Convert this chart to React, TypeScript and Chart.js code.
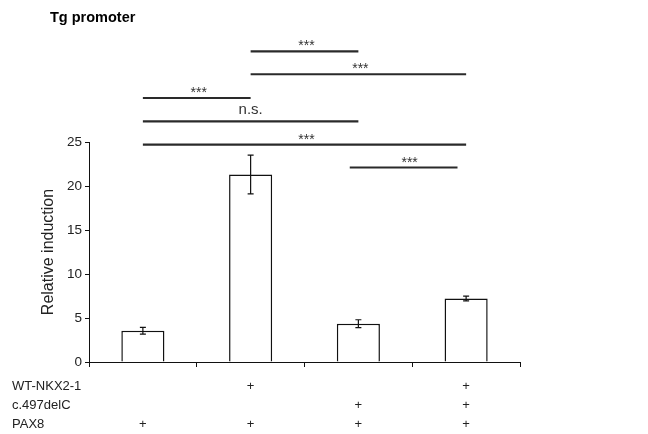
import React, { useEffect, useRef } from "react";
import { Chart, registerables } from "chart.js";

Chart.register(...registerables);

const wtNkx = ["", "+", "", "+"];
const c497 = ["", "", "+", "+"];
const pax8 = ["+", "+", "+", "+"];
const rowLabels = ["WT-NKX2-1", "c.497delC", "PAX8"];
const values = [3.55, 21.3, 4.35, 7.22];
const errors = [0.38, 2.2, 0.45, 0.27];
const yMax = 25;
const yStep = 5;
const sigFrom = [1, 1, 0, 0, 0, 1.92];
const sigTo = [2, 3, 1, 2, 3, 2.92];
const sigLevel = [35.3, 32.7, 30.0, 27.35, 24.7, 22.1];
const sigLabel = ["***", "***", "***", "n.s.", "***", "***"];
const titleText = "Tg promoter";
const yTitle = "Relative induction";

const FONT = "'Liberation Sans', Arial, sans-serif";

const overlayPlugin = {
  id: "overlay",
  afterDatasetsDraw(chart: any) {
    const { ctx, scales } = chart;
    const x = scales.x;
    const y = scales.y;
    ctx.save();
    // error bars
    ctx.strokeStyle = "#111";
    ctx.lineWidth = 1.2;
    values.forEach((v, i) => {
      const px = x.getPixelForValue(i);
      const top = y.getPixelForValue(v + errors[i]);
      const bot = y.getPixelForValue(v - errors[i]);
      ctx.beginPath();
      ctx.moveTo(px, top);
      ctx.lineTo(px, bot);
      ctx.moveTo(px - 3, top);
      ctx.lineTo(px + 3, top);
      ctx.moveTo(px - 3, bot);
      ctx.lineTo(px + 3, bot);
      ctx.stroke();
    });
    // significance brackets
    ctx.strokeStyle = "#2a2a2a";
    ctx.fillStyle = "#333";
    ctx.lineWidth = 2.2;
    ctx.textAlign = "center";
    ctx.textBaseline = "alphabetic";
    sigLevel.forEach((lv, i) => {
      const x1 = x.getPixelForValue(sigFrom[i]);
      const x2 = x.getPixelForValue(sigTo[i]);
      const py = y.getPixelForValue(lv);
      ctx.beginPath();
      ctx.moveTo(x1, py);
      ctx.lineTo(x2, py);
      ctx.stroke();
      const label = sigLabel[i];
      const mx = (x1 + x2) / 2;
      if (label === "n.s.") {
        ctx.font = `15px ${FONT}`;
        ctx.fillText(label, mx, py - 7);
      } else {
        ctx.font = `14px ${FONT}`;
        ctx.fillText(label, mx + (i === 5 ? 6 : 2), py - 1);
      }
    });
    ctx.restore();
  },
  afterDraw(chart: any) {
    const { ctx, scales } = chart;
    const x = scales.x;
    ctx.save();
    ctx.fillStyle = "#000";
    ctx.font = `bold 14.5px ${FONT}`;
    ctx.textAlign = "left";
    ctx.textBaseline = "alphabetic";
    ctx.fillText(titleText, 50, 22);
    ctx.font = `13px ${FONT}`;
    ctx.fillStyle = "#222";
    ctx.textBaseline = "middle";
    const tl = x.options.grid.tickLength;
    const pad = x.options.ticks.padding;
    rowLabels.forEach((r, i) => {
      ctx.fillText(r, 12, x.top + tl + pad + 19 * (i + 0.5));
    });
    ctx.restore();
  },
};

export default function App() {
  const ref = useRef<HTMLCanvasElement>(null);
  useEffect(() => {
    const labels = values.map((_, i) => [wtNkx[i], c497[i], pax8[i]]);
    const chart = new Chart(ref.current!, {
      type: "bar",
      data: {
        labels,
        datasets: [
          {
            data: values,
            backgroundColor: "#ffffff",
            borderColor: "#111",
            borderWidth: 1.5,
            barPercentage: 0.4,
            categoryPercentage: 1,
          },
        ],
      },
      options: {
        animation: false,
        responsive: true,
        maintainAspectRatio: false,
        layout: { padding: { left: 0, top: 142, right: 128, bottom: 0 } },
        plugins: { legend: { display: false }, tooltip: { enabled: false }, title: { display: false } },
        scales: {
          x: {
            grid: { drawOnChartArea: false, drawTicks: true, tickLength: 5, color: "#111", offset: true },
            border: { display: true, color: "#111", width: 1 },
            ticks: {
              color: "#222",
              font: { family: FONT, size: 13, lineHeight: "19px" },
              padding: 9.5,
              maxRotation: 0,
              autoSkip: false,
            },
            afterFit: (s: any) => {
              s.height = 72;
            },
          },
          y: {
            min: 0,
            max: yMax,
            grid: { drawOnChartArea: false, drawTicks: true, tickLength: 4, color: "#111" },
            border: { display: true, color: "#111", width: 1 },
            ticks: {
              stepSize: yStep,
              color: "#222",
              font: { family: FONT, size: 13.5 },
              padding: 3,
            },
            title: {
              display: true,
              text: yTitle,
              color: "#222",
              font: { family: FONT, size: 16 },
              padding: { top: 39, bottom: 0 },
            },
            afterFit: (s: any) => {
              s.width = 89;
            },
          },
        },
      },
      plugins: [overlayPlugin],
    });
    return () => chart.destroy();
  }, []);
  return (
    <div style={{ position: "fixed", left: 0, top: 0, width: 648, height: 434, background: "#fff" }}>
      <canvas ref={ref} />
    </div>
  );
}
